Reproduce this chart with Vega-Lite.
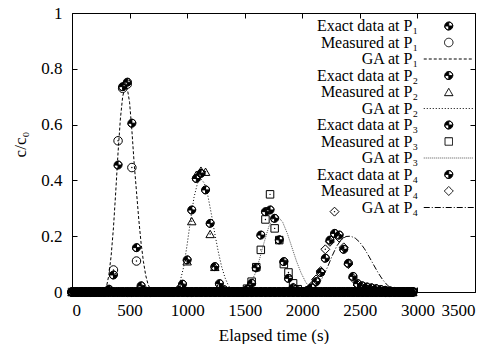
{
  "$schema": "https://vega.github.io/schema/vega-lite/v6.json",
  "width": 403,
  "height": 279,
  "autosize": "none",
  "padding": {"left": 72, "top": 13, "right": 24, "bottom": 52},
  "background": "white",
  "config": {
    "font": "Liberation Serif",
    "view": {"stroke": "black", "strokeWidth": 1},
    "axis": {"domain": false, "grid": false, "tickColor": "black", "tickWidth": 1, "tickSize": -5, "labelColor": "black", "labelFontSize": 17, "labelPadding": 15, "titleColor": "black", "titleFontSize": 17, "titleFontWeight": "normal", "labelFont": "Liberation Serif", "titleFont": "Liberation Serif"}
  },
  "datasets": {
    "names": [
      {"k": "e1", "s": "Exact data at P₁"}, {"k": "m1", "s": "Measured at P₁"},
      {"k": "e2", "s": "Exact data at P₂"}, {"k": "m2", "s": "Measured at P₂"},
      {"k": "e3", "s": "Exact data at P₃"}, {"k": "m3", "s": "Measured at P₃"},
      {"k": "e4", "s": "Exact data at P₄"}, {"k": "m4", "s": "Measured at P₄"}
    ],
    "obs": [
      {"t":0,"e1":0,"m1":0,"e2":0,"m2":0,"e3":0,"m3":0,"e4":0,"m4":0},
      {"t":40,"e1":0,"m1":0,"e2":0,"m2":0,"e3":0,"m3":0,"e4":0,"m4":0},
      {"t":80,"e1":0,"m1":0,"e2":0,"m2":0,"e3":0,"m3":0,"e4":0,"m4":0},
      {"t":120,"e1":0,"m1":0,"e2":0,"m2":0,"e3":0,"m3":0,"e4":0,"m4":0},
      {"t":160,"e1":0,"m1":0,"e2":0,"m2":0,"e3":0,"m3":0,"e4":0,"m4":0},
      {"t":200,"e1":0,"m1":0,"e2":0,"m2":0,"e3":0,"m3":0,"e4":0,"m4":0},
      {"t":240,"e1":0,"m1":0,"e2":0,"m2":0,"e3":0,"m3":0,"e4":0,"m4":0},
      {"t":280,"e1":0,"m1":0,"e2":0,"m2":0,"e3":0,"m3":0,"e4":0,"m4":0},
      {"t":320,"e1":0.01,"m1":0.005,"e2":0,"m2":0,"e3":0,"m3":0,"e4":0,"m4":0},
      {"t":360,"e1":0.061,"m1":0.079,"e2":0,"m2":0,"e3":0,"m3":0,"e4":0,"m4":0},
      {"t":400,"e1":0.455,"m1":0.542,"e2":0,"m2":0,"e3":0,"m3":0,"e4":0,"m4":0},
      {"t":440,"e1":0.736,"m1":0.73,"e2":0,"m2":0,"e3":0,"m3":0,"e4":0,"m4":0},
      {"t":480,"e1":0.752,"m1":0.745,"e2":0,"m2":0,"e3":0,"m3":0,"e4":0,"m4":0},
      {"t":520,"e1":0.605,"m1":0.446,"e2":0,"m2":0,"e3":0,"m3":0,"e4":0,"m4":0},
      {"t":560,"e1":0.159,"m1":0.111,"e2":0,"m2":0,"e3":0,"m3":0,"e4":0,"m4":0},
      {"t":600,"e1":0.022,"m1":0.01,"e2":0,"m2":0,"e3":0,"m3":0,"e4":0,"m4":0},
      {"t":640,"e1":0.003,"m1":0,"e2":0,"m2":0,"e3":0,"m3":0,"e4":0,"m4":0},
      {"t":680,"e1":0,"m1":0,"e2":0,"m2":0,"e3":0,"m3":0,"e4":0,"m4":0},
      {"t":720,"e1":0,"m1":0,"e2":0,"m2":0,"e3":0,"m3":0,"e4":0,"m4":0},
      {"t":760,"e1":0,"m1":0,"e2":0,"m2":0,"e3":0,"m3":0,"e4":0,"m4":0},
      {"t":800,"e1":0,"m1":0,"e2":0,"m2":0,"e3":0,"m3":0,"e4":0,"m4":0},
      {"t":840,"e1":0,"m1":0,"e2":0,"m2":0,"e3":0,"m3":0,"e4":0,"m4":0},
      {"t":880,"e1":0,"m1":0,"e2":0,"m2":0,"e3":0,"m3":0,"e4":0,"m4":0},
      {"t":920,"e1":0,"m1":0,"e2":0.005,"m2":0.003,"e3":0,"m3":0,"e4":0,"m4":0},
      {"t":960,"e1":0,"m1":0,"e2":0.028,"m2":0.02,"e3":0,"m3":0,"e4":0,"m4":0},
      {"t":1000,"e1":0,"m1":0,"e2":0.115,"m2":0.11,"e3":0,"m3":0,"e4":0,"m4":0},
      {"t":1040,"e1":0,"m1":0,"e2":0.294,"m2":0.254,"e3":0,"m3":0,"e4":0,"m4":0},
      {"t":1080,"e1":0,"m1":0,"e2":0.407,"m2":0.42,"e3":0,"m3":0,"e4":0,"m4":0},
      {"t":1120,"e1":0,"m1":0,"e2":0.425,"m2":0.435,"e3":0,"m3":0,"e4":0,"m4":0},
      {"t":1160,"e1":0,"m1":0,"e2":0.366,"m2":0.431,"e3":0,"m3":0,"e4":0,"m4":0},
      {"t":1200,"e1":0,"m1":0,"e2":0.246,"m2":0.208,"e3":0,"m3":0,"e4":0,"m4":0},
      {"t":1240,"e1":0,"m1":0,"e2":0.091,"m2":0.09,"e3":0,"m3":0,"e4":0,"m4":0},
      {"t":1280,"e1":0,"m1":0,"e2":0.03,"m2":0.022,"e3":0,"m3":0,"e4":0,"m4":0},
      {"t":1320,"e1":0,"m1":0,"e2":0.008,"m2":0.005,"e3":0,"m3":0,"e4":0,"m4":0},
      {"t":1360,"e1":0,"m1":0,"e2":0,"m2":0,"e3":0,"m3":0,"e4":0,"m4":0},
      {"t":1400,"e1":0,"m1":0,"e2":0,"m2":0,"e3":0,"m3":0,"e4":0,"m4":0},
      {"t":1440,"e1":0,"m1":0,"e2":0,"m2":0,"e3":0,"m3":0,"e4":0,"m4":0},
      {"t":1480,"e1":0,"m1":0,"e2":0,"m2":0,"e3":0,"m3":0,"e4":0,"m4":0},
      {"t":1520,"e1":0,"m1":0,"e2":0,"m2":0,"e3":0.01,"m3":0.012,"e4":0,"m4":0},
      {"t":1560,"e1":0,"m1":0,"e2":0,"m2":0,"e3":0.031,"m3":0.037,"e4":0,"m4":0},
      {"t":1600,"e1":0,"m1":0,"e2":0,"m2":0,"e3":0.087,"m3":0.089,"e4":0,"m4":0},
      {"t":1640,"e1":0,"m1":0,"e2":0,"m2":0,"e3":0.204,"m3":0.151,"e4":0,"m4":0},
      {"t":1680,"e1":0,"m1":0,"e2":0,"m2":0,"e3":0.288,"m3":0.26,"e4":0,"m4":0},
      {"t":1720,"e1":0,"m1":0,"e2":0,"m2":0,"e3":0.294,"m3":0.35,"e4":0,"m4":0},
      {"t":1760,"e1":0,"m1":0,"e2":0,"m2":0,"e3":0.264,"m3":0.228,"e4":0,"m4":0},
      {"t":1800,"e1":0,"m1":0,"e2":0,"m2":0,"e3":0.187,"m3":0.186,"e4":0,"m4":0},
      {"t":1840,"e1":0,"m1":0,"e2":0,"m2":0,"e3":0.109,"m3":0.1,"e4":0,"m4":0},
      {"t":1880,"e1":0,"m1":0,"e2":0,"m2":0,"e3":0.049,"m3":0.07,"e4":0,"m4":0},
      {"t":1920,"e1":0,"m1":0,"e2":0,"m2":0,"e3":0.015,"m3":0.031,"e4":0,"m4":0},
      {"t":1960,"e1":0,"m1":0,"e2":0,"m2":0,"e3":0.004,"m3":0.01,"e4":0,"m4":0},
      {"t":2000,"e1":0,"m1":0,"e2":0,"m2":0,"e3":0,"m3":0,"e4":0,"m4":0},
      {"t":2040,"e1":0,"m1":0,"e2":0,"m2":0,"e3":0,"m3":0,"e4":0.005,"m4":0.003},
      {"t":2080,"e1":0,"m1":0,"e2":0,"m2":0,"e3":0,"m3":0,"e4":0.015,"m4":0.02},
      {"t":2120,"e1":0,"m1":0,"e2":0,"m2":0,"e3":0,"m3":0,"e4":0.037,"m4":0.045},
      {"t":2160,"e1":0,"m1":0,"e2":0,"m2":0,"e3":0,"m3":0,"e4":0.07,"m4":0.075},
      {"t":2200,"e1":0,"m1":0,"e2":0,"m2":0,"e3":0,"m3":0,"e4":0.121,"m4":0.153},
      {"t":2240,"e1":0,"m1":0,"e2":0,"m2":0,"e3":0,"m3":0,"e4":0.186,"m4":0.18},
      {"t":2280,"e1":0,"m1":0,"e2":0,"m2":0,"e3":0,"m3":0,"e4":0.21,"m4":0.288},
      {"t":2320,"e1":0,"m1":0,"e2":0,"m2":0,"e3":0,"m3":0,"e4":0.204,"m4":0.195},
      {"t":2360,"e1":0,"m1":0,"e2":0,"m2":0,"e3":0,"m3":0,"e4":0.153,"m4":0.16},
      {"t":2400,"e1":0,"m1":0,"e2":0,"m2":0,"e3":0,"m3":0,"e4":0.103,"m4":0.1},
      {"t":2440,"e1":0,"m1":0,"e2":0,"m2":0,"e3":0,"m3":0,"e4":0.056,"m4":0.05},
      {"t":2480,"e1":0,"m1":0,"e2":0,"m2":0,"e3":0,"m3":0,"e4":0.03,"m4":0.025},
      {"t":2520,"e1":0,"m1":0,"e2":0,"m2":0,"e3":0,"m3":0,"e4":0.022,"m4":0.015},
      {"t":2560,"e1":0,"m1":0,"e2":0,"m2":0,"e3":0,"m3":0,"e4":0.018,"m4":0.01},
      {"t":2600,"e1":0,"m1":0,"e2":0,"m2":0,"e3":0,"m3":0,"e4":0.015,"m4":0.008},
      {"t":2640,"e1":0,"m1":0,"e2":0,"m2":0,"e3":0,"m3":0,"e4":0.012,"m4":0.005},
      {"t":2680,"e1":0,"m1":0,"e2":0,"m2":0,"e3":0,"m3":0,"e4":0.009,"m4":0.003},
      {"t":2720,"e1":0,"m1":0,"e2":0,"m2":0,"e3":0,"m3":0,"e4":0.006,"m4":0},
      {"t":2760,"e1":0,"m1":0,"e2":0,"m2":0,"e3":0,"m3":0,"e4":0.004,"m4":0},
      {"t":2800,"e1":0,"m1":0,"e2":0,"m2":0,"e3":0,"m3":0,"e4":0.002,"m4":0},
      {"t":2840,"e1":0,"m1":0,"e2":0,"m2":0,"e3":0,"m3":0,"e4":0,"m4":0},
      {"t":2880,"e1":0,"m1":0,"e2":0,"m2":0,"e3":0,"m3":0,"e4":0,"m4":0},
      {"t":2920,"e1":0,"m1":0,"e2":0,"m2":0,"e3":0,"m3":0,"e4":0,"m4":0},
      {"t":2960,"e1":0,"m1":0,"e2":0,"m2":0,"e3":0,"m3":0,"e4":0,"m4":0},
      {"t":20,"e1":0,"e2":0,"e3":0,"e4":0},{"t":60,"e1":0,"e2":0,"e3":0,"e4":0},{"t":100,"e1":0,"e2":0,"e3":0,"e4":0},{"t":140,"e1":0,"e2":0,"e3":0,"e4":0},{"t":180,"e1":0,"e2":0,"e3":0,"e4":0},{"t":220,"e1":0,"e2":0,"e3":0,"e4":0},{"t":260,"e1":0,"e2":0,"e3":0,"e4":0},
      {"t":300,"e2":0,"e3":0,"e4":0},{"t":340,"e2":0,"e3":0,"e4":0},{"t":380,"e2":0,"e3":0,"e4":0},{"t":420,"e2":0,"e3":0,"e4":0},{"t":460,"e2":0,"e3":0,"e4":0},{"t":500,"e2":0,"e3":0,"e4":0},{"t":540,"e2":0,"e3":0,"e4":0},{"t":580,"e2":0,"e3":0,"e4":0},{"t":620,"e2":0,"e3":0,"e4":0},{"t":660,"e2":0,"e3":0,"e4":0},
      {"t":700,"e1":0,"e2":0,"e3":0,"e4":0},{"t":740,"e1":0,"e2":0,"e3":0,"e4":0},{"t":780,"e1":0,"e2":0,"e3":0,"e4":0},{"t":820,"e1":0,"e2":0,"e3":0,"e4":0},{"t":860,"e1":0,"e2":0,"e3":0,"e4":0},
      {"t":900,"e1":0,"e3":0,"e4":0},{"t":940,"e1":0,"e3":0,"e4":0},{"t":980,"e1":0,"e3":0,"e4":0},{"t":1020,"e1":0,"e3":0,"e4":0},{"t":1060,"e1":0,"e3":0,"e4":0},{"t":1100,"e1":0,"e3":0,"e4":0},{"t":1140,"e1":0,"e3":0,"e4":0},{"t":1180,"e1":0,"e3":0,"e4":0},{"t":1220,"e1":0,"e3":0,"e4":0},{"t":1260,"e1":0,"e3":0,"e4":0},{"t":1300,"e1":0,"e3":0,"e4":0},{"t":1340,"e1":0,"e3":0,"e4":0},
      {"t":1380,"e1":0,"e2":0,"e3":0,"e4":0},{"t":1420,"e1":0,"e2":0,"e3":0,"e4":0},{"t":1460,"e1":0,"e2":0,"e3":0,"e4":0},
      {"t":1500,"e1":0,"e2":0,"e4":0},{"t":1540,"e1":0,"e2":0,"e4":0},{"t":1580,"e1":0,"e2":0,"e4":0},{"t":1620,"e1":0,"e2":0,"e4":0},{"t":1660,"e1":0,"e2":0,"e4":0},{"t":1700,"e1":0,"e2":0,"e4":0},{"t":1740,"e1":0,"e2":0,"e4":0},{"t":1780,"e1":0,"e2":0,"e4":0},{"t":1820,"e1":0,"e2":0,"e4":0},{"t":1860,"e1":0,"e2":0,"e4":0},{"t":1900,"e1":0,"e2":0,"e4":0},{"t":1940,"e1":0,"e2":0,"e4":0},{"t":1980,"e1":0,"e2":0,"e4":0},
      {"t":2020,"e1":0,"e2":0,"e3":0},{"t":2060,"e1":0,"e2":0,"e3":0},{"t":2100,"e1":0,"e2":0,"e3":0},{"t":2140,"e1":0,"e2":0,"e3":0},{"t":2180,"e1":0,"e2":0,"e3":0},{"t":2220,"e1":0,"e2":0,"e3":0},{"t":2260,"e1":0,"e2":0,"e3":0},{"t":2300,"e1":0,"e2":0,"e3":0},{"t":2340,"e1":0,"e2":0,"e3":0},{"t":2380,"e1":0,"e2":0,"e3":0},{"t":2420,"e1":0,"e2":0,"e3":0},{"t":2460,"e1":0,"e2":0,"e3":0},{"t":2500,"e1":0,"e2":0,"e3":0},{"t":2540,"e1":0,"e2":0,"e3":0},{"t":2580,"e1":0,"e2":0,"e3":0},{"t":2620,"e1":0,"e2":0,"e3":0},{"t":2660,"e1":0,"e2":0,"e3":0},{"t":2700,"e1":0,"e2":0,"e3":0},{"t":2740,"e1":0,"e2":0,"e3":0},{"t":2780,"e1":0,"e2":0,"e3":0},{"t":2820,"e1":0,"e2":0,"e3":0},
      {"t":2860,"e1":0,"e2":0,"e3":0,"e4":0},{"t":2900,"e1":0,"e2":0,"e3":0,"e4":0},{"t":2940,"e1":0,"e2":0,"e3":0,"e4":0}
    ],
    "ga": [
      {"t":250,"c":0,"s":"GA at P₁"},{"t":280,"c":0.005,"s":"GA at P₁"},{"t":300,"c":0.02,"s":"GA at P₁"},{"t":320,"c":0.06,"s":"GA at P₁"},{"t":340,"c":0.13,"s":"GA at P₁"},{"t":360,"c":0.23,"s":"GA at P₁"},{"t":380,"c":0.36,"s":"GA at P₁"},{"t":400,"c":0.5,"s":"GA at P₁"},{"t":420,"c":0.62,"s":"GA at P₁"},{"t":440,"c":0.7,"s":"GA at P₁"},{"t":460,"c":0.735,"s":"GA at P₁"},{"t":480,"c":0.73,"s":"GA at P₁"},{"t":500,"c":0.68,"s":"GA at P₁"},{"t":520,"c":0.58,"s":"GA at P₁"},{"t":540,"c":0.46,"s":"GA at P₁"},{"t":560,"c":0.36,"s":"GA at P₁"},{"t":580,"c":0.26,"s":"GA at P₁"},{"t":600,"c":0.175,"s":"GA at P₁"},{"t":620,"c":0.11,"s":"GA at P₁"},{"t":640,"c":0.06,"s":"GA at P₁"},{"t":660,"c":0.028,"s":"GA at P₁"},{"t":680,"c":0.01,"s":"GA at P₁"},{"t":700,"c":0,"s":"GA at P₁"},
      {"t":860,"c":0,"s":"GA at P₂"},{"t":900,"c":0.01,"s":"GA at P₂"},{"t":940,"c":0.04,"s":"GA at P₂"},{"t":970,"c":0.09,"s":"GA at P₂"},{"t":1000,"c":0.17,"s":"GA at P₂"},{"t":1030,"c":0.26,"s":"GA at P₂"},{"t":1060,"c":0.34,"s":"GA at P₂"},{"t":1090,"c":0.39,"s":"GA at P₂"},{"t":1120,"c":0.405,"s":"GA at P₂"},{"t":1150,"c":0.39,"s":"GA at P₂"},{"t":1180,"c":0.345,"s":"GA at P₂"},{"t":1210,"c":0.28,"s":"GA at P₂"},{"t":1240,"c":0.21,"s":"GA at P₂"},{"t":1270,"c":0.145,"s":"GA at P₂"},{"t":1300,"c":0.09,"s":"GA at P₂"},{"t":1330,"c":0.05,"s":"GA at P₂"},{"t":1360,"c":0.022,"s":"GA at P₂"},{"t":1390,"c":0.006,"s":"GA at P₂"},{"t":1420,"c":0,"s":"GA at P₂"},
      {"t":1470,"c":0,"s":"GA at P₃"},{"t":1510,"c":0.01,"s":"GA at P₃"},{"t":1550,"c":0.03,"s":"GA at P₃"},{"t":1590,"c":0.065,"s":"GA at P₃"},{"t":1630,"c":0.12,"s":"GA at P₃"},{"t":1670,"c":0.18,"s":"GA at P₃"},{"t":1710,"c":0.235,"s":"GA at P₃"},{"t":1750,"c":0.265,"s":"GA at P₃"},{"t":1790,"c":0.27,"s":"GA at P₃"},{"t":1830,"c":0.25,"s":"GA at P₃"},{"t":1870,"c":0.21,"s":"GA at P₃"},{"t":1910,"c":0.16,"s":"GA at P₃"},{"t":1950,"c":0.11,"s":"GA at P₃"},{"t":1990,"c":0.068,"s":"GA at P₃"},{"t":2030,"c":0.035,"s":"GA at P₃"},{"t":2070,"c":0.013,"s":"GA at P₃"},{"t":2110,"c":0,"s":"GA at P₃"},
      {"t":2060,"c":0,"s":"GA at P₄"},{"t":2100,"c":0.01,"s":"GA at P₄"},{"t":2140,"c":0.027,"s":"GA at P₄"},{"t":2180,"c":0.055,"s":"GA at P₄"},{"t":2220,"c":0.09,"s":"GA at P₄"},{"t":2260,"c":0.13,"s":"GA at P₄"},{"t":2300,"c":0.165,"s":"GA at P₄"},{"t":2340,"c":0.188,"s":"GA at P₄"},{"t":2380,"c":0.199,"s":"GA at P₄"},{"t":2420,"c":0.2,"s":"GA at P₄"},{"t":2460,"c":0.193,"s":"GA at P₄"},{"t":2500,"c":0.178,"s":"GA at P₄"},{"t":2540,"c":0.155,"s":"GA at P₄"},{"t":2580,"c":0.127,"s":"GA at P₄"},{"t":2620,"c":0.097,"s":"GA at P₄"},{"t":2660,"c":0.068,"s":"GA at P₄"},{"t":2700,"c":0.043,"s":"GA at P₄"},{"t":2740,"c":0.024,"s":"GA at P₄"},{"t":2780,"c":0.011,"s":"GA at P₄"},{"t":2820,"c":0.003,"s":"GA at P₄"},{"t":2860,"c":0,"s":"GA at P₄"}
    ]
  },
  "resolve": {"axis": {"x": "independent", "y": "independent"}},
  "layer": [
    {
      "data": {"name": "ga"},
      "mark": {"type": "line", "strokeWidth": 1, "opacity": 1},
      "encoding": {
        "x": {"field": "t", "type": "quantitative", "scale": {"domain": [0, 3500], "nice": false}, "axis": {"orient": "bottom", "title": "Elapsed time (s)", "values": [0, 500, 1000, 1500, 2000, 2500, 3000, 3500], "format": "d", "titlePadding": 9}},
        "y": {"field": "c", "type": "quantitative", "scale": {"domain": [0, 1], "nice": false}, "axis": {"orient": "left", "title": "c/c₀", "values": [0, 0.2, 0.4, 0.6, 0.8, 1], "format": ".1~f", "titlePadding": 11, "titleY": 131}},
        "stroke": {"field": "s", "type": "nominal", "scale": {"domain": ["Exact data at P₁","Measured at P₁","GA at P₁","Exact data at P₂","Measured at P₂","GA at P₂","Exact data at P₃","Measured at P₃","GA at P₃","Exact data at P₄","Measured at P₄","GA at P₄"], "range": ["black","black","black","black","black","black","black","black","#555555","black","black","black"]}},
        "strokeDash": {"field": "s", "type": "nominal", "scale": {"domain": ["Exact data at P₁","Measured at P₁","GA at P₁","Exact data at P₂","Measured at P₂","GA at P₂","Exact data at P₃","Measured at P₃","GA at P₃","Exact data at P₄","Measured at P₄","GA at P₄"], "range": [[1,0],[1,0],[3,2],[1,0],[1,0],[1,2],[1,0],[1,0],[1,1],[1,0],[1,0],[6,2,1,2]]}}
      }
    },
    {
      "data": {"name": "obs"},
      "transform": [
        {"fold": ["e1","m1","e2","m2","e3","m3","e4","m4"], "as": ["k", "c"]},
        {"lookup": "k", "from": {"data": {"name": "names"}, "key": "k", "fields": ["s"]}}
      ],
      "mark": {"type": "point", "strokeWidth": 1, "opacity": 1},
      "encoding": {
        "x": {"field": "t", "type": "quantitative", "axis": {"orient": "top", "labels": false, "title": null, "values": [0, 500, 1000, 1500, 2000, 2500, 3000, 3500]}},
        "y": {"field": "c", "type": "quantitative", "axis": {"orient": "right", "labels": false, "title": null, "values": [0, 0.2, 0.4, 0.6, 0.8, 1]}},
        "shape": {"field": "s", "type": "nominal", "scale": {"domain": ["Exact data at P₁","Measured at P₁","GA at P₁","Exact data at P₂","Measured at P₂","GA at P₂","Exact data at P₃","Measured at P₃","GA at P₃","Exact data at P₄","Measured at P₄","GA at P₄"], "range": ["M1,0A1,1,0,1,1,-1,0A1,1,0,1,1,1,0ZM0,0L1,0A1,1,0,0,0,0,-1ZM0,0L-1,0A1,1,0,0,0,0,1Z","circle","M-3.333,0L3.333,0","M1,0A1,1,0,1,1,-1,0A1,1,0,1,1,1,0ZM0,0L1,0A1,1,0,0,0,0,-1ZM0,0L-1,0A1,1,0,0,0,0,1Z","triangle-up","M-3.333,0L3.333,0","M1,0A1,1,0,1,1,-1,0A1,1,0,1,1,1,0ZM0,0L1,0A1,1,0,0,0,0,-1ZM0,0L-1,0A1,1,0,0,0,0,1Z","square","M-3.333,0L3.333,0","M1,0A1,1,0,1,1,-1,0A1,1,0,1,1,1,0ZM0,0L1,0A1,1,0,0,0,0,-1ZM0,0L-1,0A1,1,0,0,0,0,1Z","diamond","M-3.333,0L3.333,0"]},
          "legend": {"orient": "none", "legendX": 368.75, "legendY": 5, "title": null, "direction": "vertical", "columns": 1, "labelAlign": "right", "labelOffset": -38.75, "labelFontSize": 16, "labelFont": "Liberation Serif", "labelColor": "black", "rowPadding": 0.5, "padding": 0, "symbolStrokeWidth": 1, "labelBaseline": "middle", "labelLimit": 300}},
        "size": {"field": "s", "type": "nominal", "scale": {"type": "ordinal", "domain": ["Exact data at P₁","Measured at P₁","GA at P₁","Exact data at P₂","Measured at P₂","GA at P₂","Exact data at P₃","Measured at P₃","GA at P₃","Exact data at P₄","Measured at P₄","GA at P₄"], "range": [64,72,225,64,72,225,64,56,225,64,80,225]}},
        "fill": {"field": "s", "type": "nominal", "scale": {"domain": ["Exact data at P₁","Measured at P₁","GA at P₁","Exact data at P₂","Measured at P₂","GA at P₂","Exact data at P₃","Measured at P₃","GA at P₃","Exact data at P₄","Measured at P₄","GA at P₄"], "range": ["black","transparent","transparent","black","transparent","transparent","black","transparent","transparent","black","transparent","transparent"]}},
        "stroke": {"field": "s", "type": "nominal"}
      }
    },
    {
      "data": {"name": "obs"},
      "transform": [
        {"fold": ["m1","m2","m3","m4"], "as": ["k", "c"]}
      ],
      "mark": {"type": "point", "shape": "circle", "size": 2, "filled": true, "color": "black", "opacity": 1},
      "encoding": {
        "x": {"field": "t", "type": "quantitative", "axis": null},
        "y": {"field": "c", "type": "quantitative", "axis": null}
      }
    }
  ]
}
